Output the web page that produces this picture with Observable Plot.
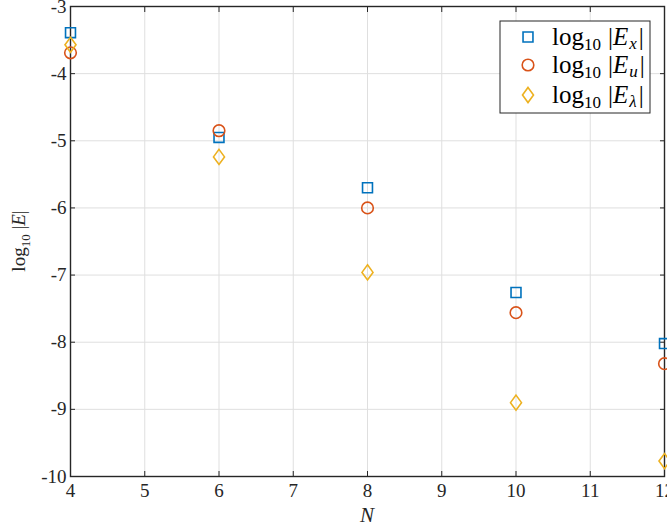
<!DOCTYPE html>
<html>
<head>
<meta charset="utf-8">
<script src="https://cdn.jsdelivr.net/npm/d3@7"></script>
<script src="https://cdn.jsdelivr.net/npm/@observablehq/plot@0.6"></script>
<style>
  html, body { margin: 0; padding: 0; background: #fff; }
  #chart { width: 667px; height: 529px; }
  svg { font-family: "Liberation Serif", "DejaVu Serif", serif; }
</style>
</head>
<body>
<div id="chart"></div>
<script>
const N = [4, 6, 8, 10, 12];
const Ex = [-3.39, -4.95, -5.70, -7.26, -8.02];
const Eu = [-3.69, -4.85, -6.00, -7.56, -8.32];
const El = [-3.57, -5.24, -6.96, -8.90, -9.77];
const xTicks = [4, 5, 6, 7, 8, 9, 10, 11, 12];
const yTicks = [-10, -9, -8, -7, -6, -5, -4, -3];
const seriesNames = ["x", "u", "λ"];
const colors = ["#0072BD", "#D95319", "#EDB120"];

const diamondSym = {
  draw(ctx, size) {
    const r = Math.sqrt(size / Math.PI);
    ctx.moveTo(0, -1.3 * r);
    ctx.lineTo(0.95 * r, 0);
    ctx.lineTo(0, 1.3 * r);
    ctx.lineTo(-0.95 * r, 0);
    ctx.closePath();
  }
};

const rowsX = N.map((n, i) => ({n, v: Ex[i]}));
const rowsU = N.map((n, i) => ({n, v: Eu[i]}));
const rowsL = N.map((n, i) => ({n, v: El[i]}));

const axisColor = "#262626";
const serif = "Liberation Serif";
const plot = Plot.plot({
  width: 667,
  height: 529,
  marginLeft: 70,
  marginRight: 3,
  marginTop: 6,
  marginBottom: 53,
  style: {fontFamily: "Liberation Serif, serif", background: "#fff", overflow: "hidden"},
  x: {domain: [4, 12], label: null},
  y: {domain: [-10, -3], label: null},
  marks: [
    Plot.gridX(xTicks, {stroke: "#dfdfdf", strokeOpacity: 1, strokeWidth: 1}),
    Plot.gridY(yTicks, {stroke: "#dfdfdf", strokeOpacity: 1, strokeWidth: 1}),
    Plot.axisX(xTicks, {anchor: "bottom", tickSize: -5, tickPadding: 12, tickFormat: d => String(d), fontSize: 20, fontFamily: serif, color: axisColor, stroke: axisColor}),
    Plot.axisX(xTicks, {anchor: "top", tickSize: -5, tickFormat: () => "", stroke: axisColor}),
    Plot.axisY(yTicks, {anchor: "left", tickSize: -5, tickPadding: 9, tickFormat: d => String(d), fontSize: 20, fontFamily: serif, color: axisColor, stroke: axisColor}),
    Plot.axisY(yTicks, {anchor: "right", tickSize: -5, tickFormat: () => "", stroke: axisColor}),
    Plot.frame({stroke: axisColor, strokeWidth: 1.4}),
    Plot.dot(rowsX, {x: "n", y: "v", symbol: "square", r: 5.6, stroke: colors[0], strokeWidth: 1.6}),
    Plot.dot(rowsU, {x: "n", y: "v", symbol: "circle", r: 5.8, stroke: colors[1], strokeWidth: 1.6}),
    Plot.dot(rowsL, {x: "n", y: "v", symbol: diamondSym, r: 5.8, stroke: colors[2], strokeWidth: 1.6})
  ]
});
document.getElementById("chart").appendChild(plot);

const svg = d3.select(plot);
svg.selectAll('g[aria-label$="tick label"] text')
  .style("font-size", "19px").style("font-family", serif);

// x label
svg.append("text")
  .attr("x", 367).attr("y", 522)
  .attr("text-anchor", "middle")
  .attr("font-size", 21).attr("font-style", "italic")
  .attr("font-family", serif)
  .attr("fill", axisColor)
  .text("N");
// y label
const yl = svg.append("text")
  .attr("transform", "translate(25,241) rotate(-90)")
  .attr("text-anchor", "middle")
  .attr("font-family", serif)
  .attr("font-size", 19).attr("fill", axisColor);
yl.append("tspan").text("log");
yl.append("tspan").attr("font-size", 13).attr("dy", 5).text("10");
yl.append("tspan").attr("dy", -5).text(" |");
yl.append("tspan").attr("font-style", "italic").text("E");
yl.append("tspan").text("|");

// legend
const lg = svg.append("g").attr("transform", "translate(500,21)");
lg.append("rect").attr("width", 150).attr("height", 92)
  .attr("fill", "#fff").attr("stroke", axisColor).attr("stroke-width", 1);
const symbols = [d3.symbolSquare, d3.symbolCircle, diamondSym];
const sizes = [Math.PI * 5.6 * 5.6, Math.PI * 5.8 * 5.8, Math.PI * 5.8 * 5.8];
const rowY = [16, 44, 74];
seriesNames.forEach((s, i) => {
  lg.append("path")
    .attr("transform", `translate(28,${rowY[i]})`)
    .attr("d", d3.symbol(symbols[i], sizes[i])())
    .attr("fill", "none").attr("stroke", colors[i]).attr("stroke-width", 1.6);
  const t = lg.append("text")
    .attr("x", 52).attr("y", rowY[i] + 8)
    .attr("text-anchor", "start")
    .attr("font-family", serif)
    .attr("font-size", 25).attr("fill", "#000");
  t.append("tspan").text("log");
  t.append("tspan").attr("font-size", 17).attr("dy", 5).text("10");
  t.append("tspan").attr("dy", -5).attr("dx", 7).text("|");
  t.append("tspan").attr("font-style", "italic").text("E");
  t.append("tspan").attr("font-size", 17).attr("font-style", "italic").attr("dy", 4).attr("dx", 1).text(s);
  t.append("tspan").attr("dy", -4).attr("dx", 2).text("|");
});
</script>
</body>
</html>
